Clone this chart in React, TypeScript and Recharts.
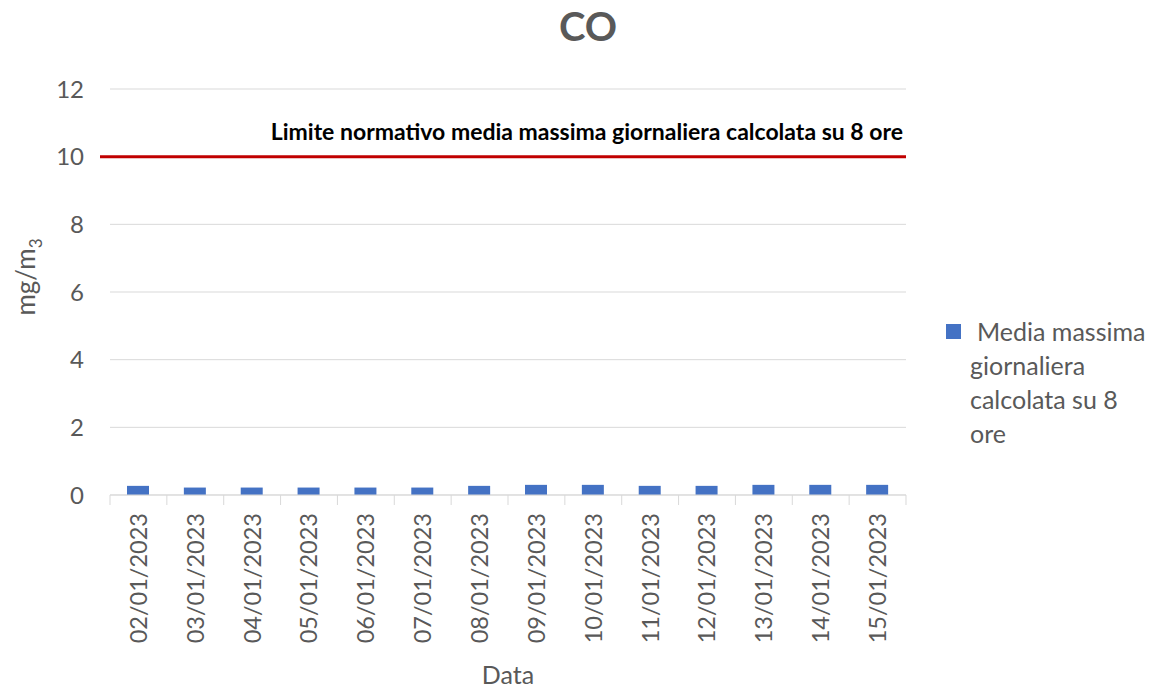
import React from 'react';
import {
  BarChart, Bar, XAxis, YAxis, CartesianGrid, ReferenceLine, Legend, Label
} from 'recharts';

const dates = [
  '02/01/2023', '03/01/2023', '04/01/2023', '05/01/2023', '06/01/2023', '07/01/2023', '08/01/2023',
  '09/01/2023', '10/01/2023', '11/01/2023', '12/01/2023', '13/01/2023', '14/01/2023', '15/01/2023'
];
const mediaMassima = [0.27, 0.22, 0.22, 0.22, 0.22, 0.22, 0.27, 0.3, 0.3, 0.27, 0.27, 0.3, 0.3, 0.3];
const yTicks = [0, 2, 4, 6, 8, 10, 12];
const limite = 10;

const seriesName = 'Media massima giornaliera calcolata su 8 ore';
const limitLabel = 'Limite normativo media massima giornaliera calcolata su 8 ore';

const data = dates.map((d, i) => ({ date: d, value: mediaMassima[i] }));

const FONT = 'Lato, "Open Sans", sans-serif';
const GREY = '#595959';

// layout
const W = 1160;
const H = 690;
const margin = { top: 89, right: 254, bottom: 20, left: 40 };
const yAxisWidth = 70;
const xAxisHeight = 175;
const band = (W - margin.left - margin.right - yAxisWidth) / dates.length;

// rotated date label + boundary tick marks
const DateTick = (props: any) => {
  const { x, y, payload, index } = props;
  const last = index === dates.length - 1;
  return (
    <g transform={`translate(${x},${y})`}>
      <line x1={-band / 2} y1={0} x2={-band / 2} y2={10} stroke="#d9d9d9" />
      {last && <line x1={band / 2} y1={0} x2={band / 2} y2={10} stroke="#d9d9d9" />}
      <text
        transform="rotate(-90)"
        x={-18}
        y={0}
        dy="0.36em"
        textAnchor="end"
        fill={GREY}
        fontSize={23.5}
        fontFamily={FONT}
      >
        {payload.value}
      </text>
    </g>
  );
};

const LimitLine = (props: any) => {
  const { x1, x2, y1, y2 } = props;
  return <line x1={x1 - 10} x2={x2} y1={y1} y2={y2} stroke="#c00000" strokeWidth={3} />;
};

const LimitLabel = (props: any) => {
  const vb = props.viewBox;
  return (
    <text x={vb.x + vb.width - 3} y={vb.y - 17} textAnchor="end" fill="#000"
      fontSize={23} fontWeight="bold" fontFamily={FONT}>
      {limitLabel}
    </text>
  );
};

const LegendBox = () => (
  <div style={{ fontFamily: FONT, fontSize: 25, color: GREY, lineHeight: '34px', position: 'relative' }}>
    <span style={{
      position: 'absolute', left: -24, top: 10, width: 15, height: 15, background: '#4472c4'
    }} />
    <div style={{ paddingLeft: 7 }}>Media massima</div>
    <div>giornaliera</div>
    <div>calcolata su 8</div>
    <div>ore</div>
  </div>
);

export default function App() {
  return (
    <div style={{ position: 'absolute', left: 0, top: 0, width: W, height: H, background: '#fff' }}>
      <div style={{
        position: 'absolute', left: 8, width: W, top: 2, textAlign: 'center',
        fontFamily: FONT, fontWeight: 'bold', fontSize: 40, color: GREY
      }}>
        CO
      </div>
      <BarChart width={W} height={H} data={data} margin={margin} barSize={22}>
        <CartesianGrid vertical={false} stroke="#d9d9d9" />
        <XAxis
          dataKey="date"
          height={xAxisHeight}
          interval={0}
          tickSize={0}
          tickMargin={0}
          stroke="#d9d9d9"
          tick={<DateTick />}
        >
          <Label value="Data" position="insideBottom" offset={-14} fill={GREY} fontSize={25} fontFamily={FONT} />
        </XAxis>
        <YAxis
          width={yAxisWidth}
          domain={[0, 12]}
          ticks={yTicks}
          axisLine={false}
          tickLine={false}
          tick={{ fill: GREY, fontSize: 24, fontFamily: FONT, dx: -18 }}
          label={() => (
            <text transform="translate(26,277) rotate(-90)" textAnchor="middle" dy="0.35em"
              fill={GREY} fontSize={26} fontFamily={FONT}>
              mg/m<tspan fontSize={17} dy={7}>3</tspan>
            </text>
          )}
        />
        <ReferenceLine y={limite} shape={<LimitLine />} ifOverflow="visible">
          <Label content={<LimitLabel />} />
        </ReferenceLine>
        <Bar dataKey="value" name={seriesName} fill="#4472c4" isAnimationActive={false} />
        <Legend
          layout="horizontal"
          verticalAlign="middle"
          align="center"
          content={<LegendBox />}
          wrapperStyle={{ left: 970, top: 314, width: 190 }}
        />
      </BarChart>
    </div>
  );
}
